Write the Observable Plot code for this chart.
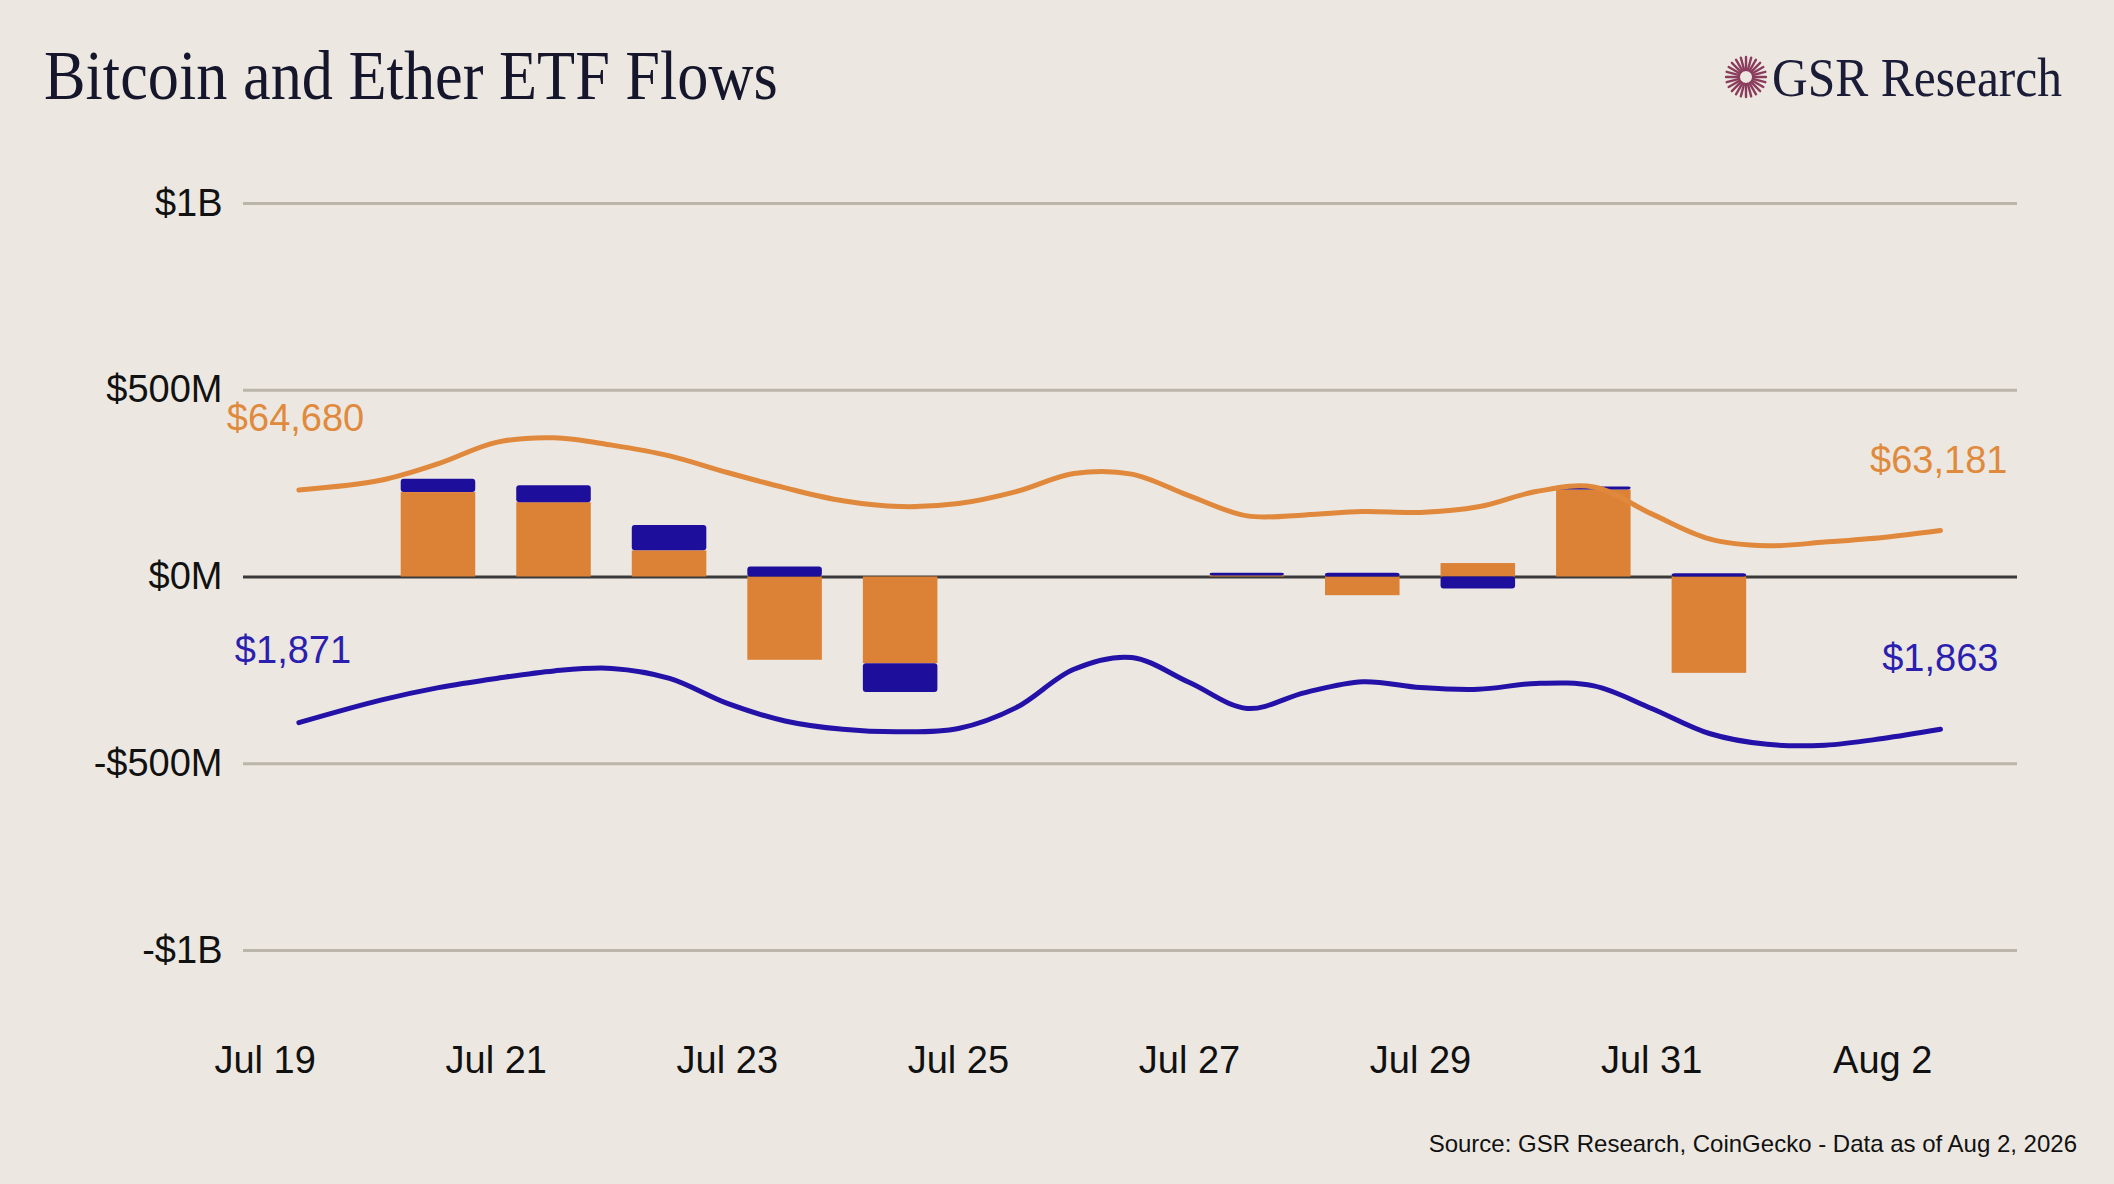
<!DOCTYPE html>
<html>
<head>
<meta charset="utf-8">
<script src="https://cdn.jsdelivr.net/npm/d3@7"></script>
<script src="https://cdn.jsdelivr.net/npm/@observablehq/plot@0.6"></script>
<style>
  html, body { margin: 0; padding: 0; background: #ece8e1; }
  #wrap { position: relative; width: 2114px; height: 1184px; overflow: hidden; background: #ece8e1; }
  #title { position: absolute; left: 44px; top: 41px; font-family: "Liberation Serif", "DejaVu Serif", serif; font-size: 70px; line-height: 70px; color: #15162b; white-space: nowrap; transform: scaleX(0.89); transform-origin: left top; margin: 0; font-weight: normal; }
  #logo { position: absolute; left: 1724px; top: 50px; height: 60px; white-space: nowrap; }
  #logo svg { position: absolute; left: 0; top: 5px; }
  #logoText { position: absolute; left: 48px; top: 0; font-family: "Liberation Serif", "DejaVu Serif", serif; font-size: 55px; line-height: 55px; color: #1b1c37; transform: scaleX(0.9); transform-origin: left top; }
  #chart { position: absolute; left: 0; top: 150px; }
  #source { position: absolute; right: 37px; top: 1131px; font-family: "Liberation Sans", Arial, sans-serif; font-size: 24px; line-height: 26px; color: #111; white-space: nowrap; }
</style>
</head>
<body>
<div id="wrap">
  <h1 id="title">Bitcoin and Ether ETF Flows</h1>
  <div id="logo">
    <svg id="mark" width="44" height="44" viewBox="-22 -22 44 44"></svg>
    <div id="logoText">GSR Research</div>
  </div>
  <div id="chart"></div>
  <div id="source">Source: GSR Research, CoinGecko - Data as of Aug 2, 2026</div>
</div>
<script>
// ---- Data ----
const flowDates = ["2026-07-20","2026-07-21","2026-07-22","2026-07-23","2026-07-24",
                   "2026-07-27","2026-07-28","2026-07-29","2026-07-30","2026-07-31"];
const btcFlow = [226, 199, 70, -223, -232, 3, -50, 36, 233, -258];   // $M
const ethFlow = [36, 45, 68, 27, -77, 7, 10, -32, 8, 9];             // $M

const priceTimes = [
  "2026-07-19T07:00Z",
  "2026-07-20T00:00Z","2026-07-20T12:00Z","2026-07-21T00:00Z","2026-07-21T12:00Z",
  "2026-07-22T00:00Z","2026-07-22T12:00Z","2026-07-23T00:00Z","2026-07-23T12:00Z",
  "2026-07-24T00:00Z","2026-07-24T12:00Z","2026-07-25T00:00Z","2026-07-25T12:00Z",
  "2026-07-26T00:00Z","2026-07-26T12:00Z","2026-07-27T00:00Z","2026-07-27T12:00Z",
  "2026-07-28T00:00Z","2026-07-28T12:00Z","2026-07-29T00:00Z","2026-07-29T12:00Z",
  "2026-07-30T00:00Z","2026-07-30T12:00Z","2026-07-31T00:00Z","2026-07-31T12:00Z",
  "2026-08-01T00:00Z","2026-08-01T12:00Z","2026-08-02T00:00Z","2026-08-02T12:00Z"
];
const btcPrice = [64680, 65037, 65652, 66440, 66610, 66337, 65940, 65325, 64757, 64279,
                  64065, 64179, 64621, 65288, 65266, 64459, 63722, 63759, 63881, 63851,
                  64058, 64621, 64790, 63796, 62875, 62618, 62754, 62923, 63181];
const ethPrice = [1871, 1898, 1913, 1924, 1933, 1936, 1924, 1894, 1873, 1863,
                  1860, 1864, 1889, 1935, 1949, 1919, 1888, 1907, 1920, 1913,
                  1911, 1918, 1915, 1888, 1858, 1845, 1844, 1852, 1863];

const yTicks = [1000, 500, 0, -500, -1000];
const yLabels = ["$1B", "$500M", "$0M", "-$500M", "-$1B"];
const xTicks = ["2026-07-19","2026-07-21","2026-07-23","2026-07-25","2026-07-27","2026-07-29","2026-07-31","2026-08-02"];

// ---- Styling ----
const ORANGE = "#dc8237";
const BLUE = "#1e0e9c";
const LINE_ORANGE = "#e0883b";
const LINE_BLUE = "#2411a8";
const LABEL_ORANGE = "#e08a3d";
const LABEL_BLUE = "#2b1fb0";

// secondary (hidden) price axes mapped onto the flow axis
const btcAxis = d3.scaleLinear([47664, 75265], [-1000, 1000]);
const ethAxis = d3.scaleLinear([1598, 2493], [-1000, 1000]);

const bars = flowDates.flatMap((d, i) => [
  {date: new Date(d), asset: "BTC", value: btcFlow[i]},
  {date: new Date(d), asset: "ETH", value: ethFlow[i]}
]);
const btc = priceTimes.map((t, i) => ({date: new Date(t), price: btcPrice[i]}));
const eth = priceTimes.map((t, i) => ({date: new Date(t), price: ethPrice[i]}));
const fmt = d3.format("$,");

const chart = Plot.plot({
  width: 2114,
  height: 960,
  marginTop: 53,
  marginBottom: 160,
  marginLeft: 243,
  marginRight: 97,
  x: {type: "utc", domain: [new Date("2026-07-18T19:30Z"), new Date("2026-08-03T04:00Z")]},
  y: {domain: [-1000, 1000]},
  color: {domain: ["BTC", "ETH"], range: [ORANGE, BLUE]},
  style: {background: "transparent", fontFamily: "'Liberation Sans', Arial, sans-serif", fontSize: "38px", color: "#111", overflow: "visible"},
  marks: [
    Plot.ruleY([1000, 500, -500, -1000], {stroke: "#bcb5a9", strokeWidth: 3}),
    Plot.ruleY([0], {stroke: "#3a3a3a", strokeWidth: 3}),
    Plot.rectY(bars, {x: "date", y: "value", interval: "day", fill: "asset",
      fillOpacity: d => d.asset === "BTC" ? 1 : 0, insetLeft: 20.5, insetRight: 20.5}),
    Plot.rectY(bars, {x: "date", y: "value", interval: "day", fill: "asset",
      fillOpacity: d => d.asset === "ETH" ? 1 : 0, insetLeft: 20.5, insetRight: 20.5, rx: 3}),
    Plot.line(btc, {x: "date", y: d => btcAxis(d.price), curve: "catmull-rom", stroke: LINE_ORANGE, strokeWidth: 5}),
    Plot.line(eth, {x: "date", y: d => ethAxis(d.price), curve: "catmull-rom", stroke: LINE_BLUE, strokeWidth: 5}),
    Plot.text([btc[0]], {x: "date", y: d => btcAxis(d.price), text: d => fmt(d.price), dx: -72, dy: -59, textAnchor: "start", lineAnchor: "bottom", fill: LABEL_ORANGE, fontSize: 38}),
    Plot.text([eth[0]], {x: "date", y: d => ethAxis(d.price), text: d => fmt(d.price), dx: -64, dy: -60, textAnchor: "start", lineAnchor: "bottom", fill: LABEL_BLUE, fontSize: 38}),
    Plot.text([btc[btc.length - 1]], {x: "date", y: d => btcAxis(d.price), text: d => fmt(d.price), dx: 67, dy: -58, textAnchor: "end", lineAnchor: "bottom", fill: LABEL_ORANGE, fontSize: 38}),
    Plot.text([eth[eth.length - 1]], {x: "date", y: d => ethAxis(d.price), text: d => fmt(d.price), dx: 58, dy: -58, textAnchor: "end", lineAnchor: "bottom", fill: LABEL_BLUE, fontSize: 38}),
    Plot.axisX({ticks: xTicks.map(d => new Date(d)), tickFormat: d3.utcFormat("%b %-d"), tickSize: 0, tickPadding: 96, fontSize: 38, label: null}),
    Plot.axisY({ticks: yTicks, tickFormat: d => yLabels[yTicks.indexOf(d)], tickSize: 0, tickPadding: 21, fontSize: 38, label: null})
  ]
});
document.getElementById("chart").appendChild(chart);

// logo sunburst
const mark = d3.select("#mark");
const rays = d3.range(24);
mark.selectAll("line").data(rays).join("line")
  .attr("x1", i => 7 * Math.cos(i * Math.PI / 12))
  .attr("y1", i => 7 * Math.sin(i * Math.PI / 12))
  .attr("x2", i => 20 * Math.cos(i * Math.PI / 12))
  .attr("y2", i => 20 * Math.sin(i * Math.PI / 12))
  .attr("stroke", "#8b3c5d")
  .attr("stroke-width", 2.4)
  .attr("stroke-linecap", "round");
</script>
</body>
</html>
